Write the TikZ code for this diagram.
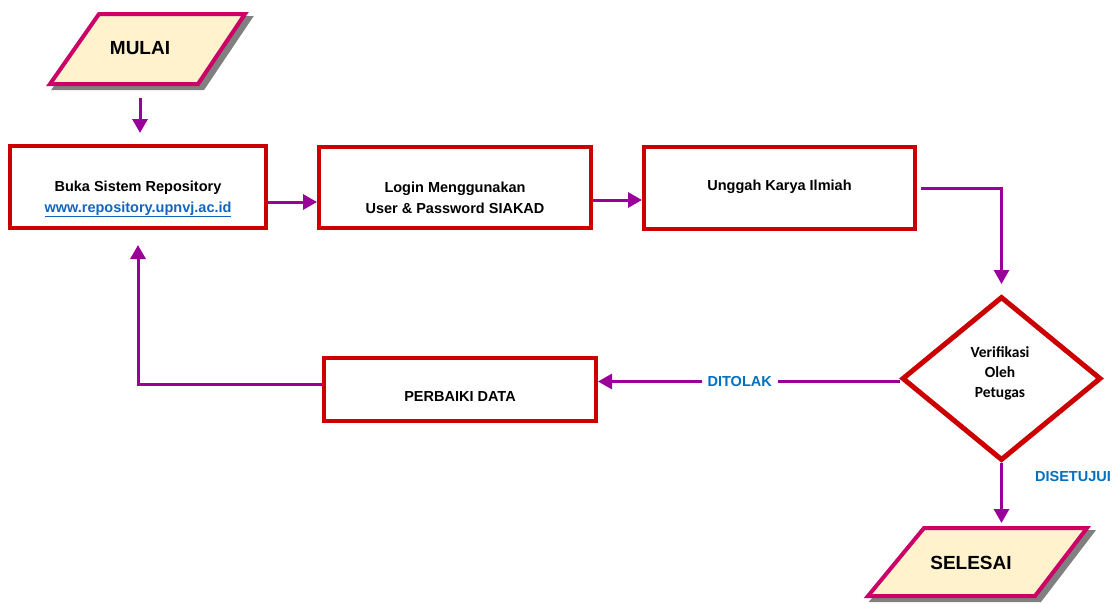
\documentclass[tikz,border=0pt]{standalone}
\usepackage{fontspec}
\setmainfont{Liberation Sans}
\newfontfamily\calibfont{Carlito}
\usetikzlibrary{arrows.meta,shapes.geometric,calc}
\definecolor{boxred}{HTML}{CC0000}
\definecolor{ioborder}{HTML}{CC0066}
\definecolor{iofill}{HTML}{FFF2CC}
\definecolor{flow}{HTML}{990099}
\definecolor{lblue}{HTML}{0070C0}
\definecolor{linkblue}{HTML}{1565C0}
\definecolor{shade}{HTML}{808080}

\begin{document}
\begin{tikzpicture}[x=1pt,y=-1pt,
  procbox/.style={draw=boxred,line width=4pt,fill=white,rectangle,inner sep=0pt},
  decision/.style={draw=boxred,line width=5pt,fill=white,diamond,inner sep=0pt},
  io/.style={draw=ioborder,line width=4pt,fill=iofill,line join=miter},
  ioshadow/.style={draw=shade,fill=shade,line width=4pt},
  iotext/.style={font=\bfseries\fontsize{19}{23}\selectfont,inner sep=0pt},
  boxtext/.style={font=\bfseries\fontsize{14.5}{21}\selectfont,align=center,inner sep=0pt},
  dectext/.style={font=\calibfont\bfseries\fontsize{15.5}{20}\selectfont,align=center,inner sep=0pt},
  branch/.style={font=\bfseries\fontsize{14.5}{17}\selectfont,text=lblue},
  arr/.style={draw=flow,line width=3pt,-{Triangle[width=15pt,length=14pt]}}]

% canvas
\fill[white] (0,0) rectangle (1114,603);
\useasboundingbox (0,0) rectangle (1114,603);

% start terminal (parallelogram with drop shadow)
\draw[ioshadow] (104,18) -- (250,18) -- (203,88) -- (55,88) -- cycle;
\draw[io] (99,14) -- (245,14) -- (198,84) -- (50,84) -- cycle;
\node[iotext] (mulai) at (140,48) {MULAI};
\coordinate (mulaiout) at (140,98);

% end terminal
\draw[ioshadow] (929,532) -- (1092,532) -- (1040,600) -- (873,600) -- cycle;
\draw[io] (924,528) -- (1087,528) -- (1035,596) -- (868,596) -- cycle;
\node[iotext] (selesai) at (971,563) {SELESAI};
\coordinate (seltop) at (1001,526);

% process boxes
\node[procbox,minimum width=256pt,minimum height=82pt] (buka) at (138,187) {};
\node[boxtext] (bukatxt) at (138,199) {Buka Sistem Repository\\
  {\color{linkblue}\underline{www.repository.upnvj.ac.id}}};

\node[procbox,minimum width=272pt,minimum height=81pt] (login) at (455,187.5) {};
\node[boxtext] (logintxt) at (455,197.5) {Login Menggunakan\\User \& Password SIAKAD};

\node[procbox,minimum width=271pt,minimum height=82pt] (unggah) at (779.5,188) {};
\node[boxtext] (unggahtxt) at (779.5,187) {Unggah Karya Ilmiah};

\node[procbox,minimum width=272pt,minimum height=63pt] (perbaiki) at (460,389.5) {};
\node[boxtext] (perbaikitxt) at (460,397) {PERBAIKI DATA};

% decision
\node[decision,minimum width=199pt,minimum height=164pt] (verif) at (1001.5,378.5) {};
\node[dectext] (veriftxt) at (1000,373) {Verifikasi\\Oleh\\Petugas};

% connectors
\draw[arr,shorten >=11pt] (mulaiout) -- (mulaiout |- buka.north);
\draw[arr] ($(buka.east)+(0,15)$) -- ($(login.west)+(0,14.5)$);
\draw[arr] ($(login.east)+(0,12.5)$) -- ($(unggah.west)+(0,12)$);
\draw[arr,shorten >=10pt] ($(unggah.east)+(4,0)$) -| (verif.north);
\coordinate (rejout) at ($(verif.west)+(0,3)$);
\draw[arr] (rejout) -- (rejout -| perbaiki.east)
  node[pos=0.53,fill=white,inner xsep=6pt,branch] (ditolak) {DITOLAK};
\draw[arr,shorten >=15pt] ($(perbaiki.west)+(0,-5.5)$) -| (buka.south);
\draw[arr,shorten >=3pt] (verif.south) -- (verif.south |- seltop);
\node[branch] (disetujui) at (1073,476) {DISETUJUI};
\end{tikzpicture}
\end{document}
